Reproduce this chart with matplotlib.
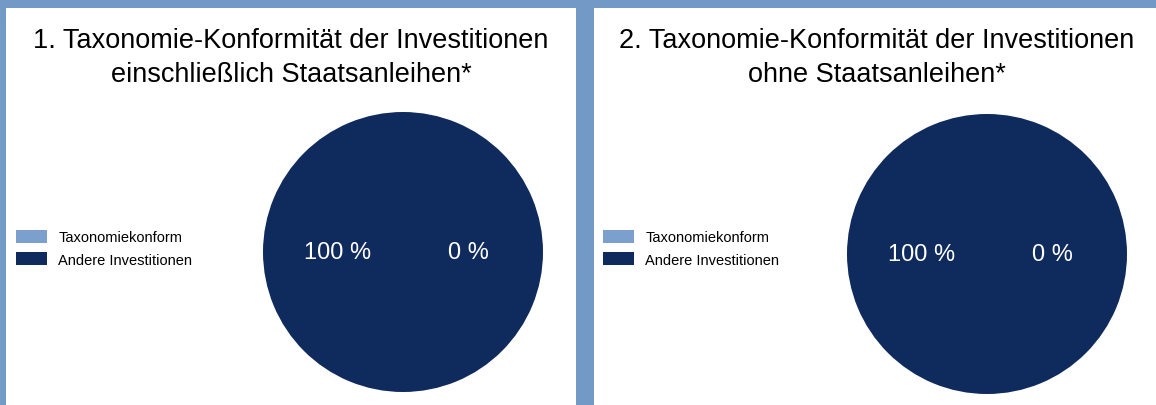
import matplotlib.pyplot as plt
from matplotlib.patches import Rectangle

plt.rcParams['font.family'] = ['Liberation Sans', 'DejaVu Sans']

# data
categories = ["Taxonomiekonform", "Andere Investitionen"]
values_incl = [0, 100]      # 1. einschliesslich Staatsanleihen
values_excl = [0, 100]      # 2. ohne Staatsanleihen
titles = ["1. Taxonomie-Konformität der Investitionen\neinschließlich Staatsanleihen*",
          "2. Taxonomie-Konformität der Investitionen\nohne Staatsanleihen*"]
colors = ["#7ba0cd", "#0f2a5c"]

W, H = 1156, 406
fig = plt.figure(figsize=(W / 100, H / 100), dpi=100)
fig.patch.set_facecolor("#7399c7")

def px_box(x0, y0, x1, y1):
    # pixel box (top-left origin) -> figure fraction [left, bottom, width, height]
    return [x0 / W, 1 - y1 / H, (x1 - x0) / W, (y1 - y0) / H]

# white panels
for x0, x1 in [(6, 576), (594, W)]:
    l, b, w, h = px_box(x0, 9, x1, H)
    fig.patches.append(Rectangle((l, b), w, h, transform=fig.transFigure,
                                 facecolor="white", edgecolor="none", zorder=-5))

panels = [
    dict(vals=values_incl, title=titles[0], box=(263, 113, 543, 393), tx=291, lx=16),
    dict(vals=values_excl, title=titles[1], box=(847, 115, 1127, 395), tx=877, lx=603),
]

for p in panels:
    ax = fig.add_axes(px_box(*p["box"]))
    ax.set_zorder(2)
    wedges, _, autotexts = ax.pie(p["vals"], colors=colors, startangle=0,
                                  autopct=lambda v: "%d %%" % round(v),
                                  pctdistance=0.47,
                                  textprops=dict(color="white", fontsize=17))
    ax.set_xlim(-1, 1)
    ax.set_ylim(-1, 1)
    ax.set_aspect("equal")

    fig.text(p["tx"] / W, 1 - 58 / H, p["title"], ha="center", va="center",
             fontsize=19.5, linespacing=1.4, color="black")

    fig.legend(wedges, categories, loc="upper left",
               bbox_to_anchor=(p["lx"] / W, 1 - 231 / H),
               bbox_transform=fig.transFigure, frameon=False,
               fontsize=10.5, handlelength=2.1, handleheight=0.96,
               handletextpad=0.8, labelspacing=0.55, borderpad=0,
               borderaxespad=0)

fig.savefig("out.png", dpi=100, facecolor=fig.get_facecolor())
